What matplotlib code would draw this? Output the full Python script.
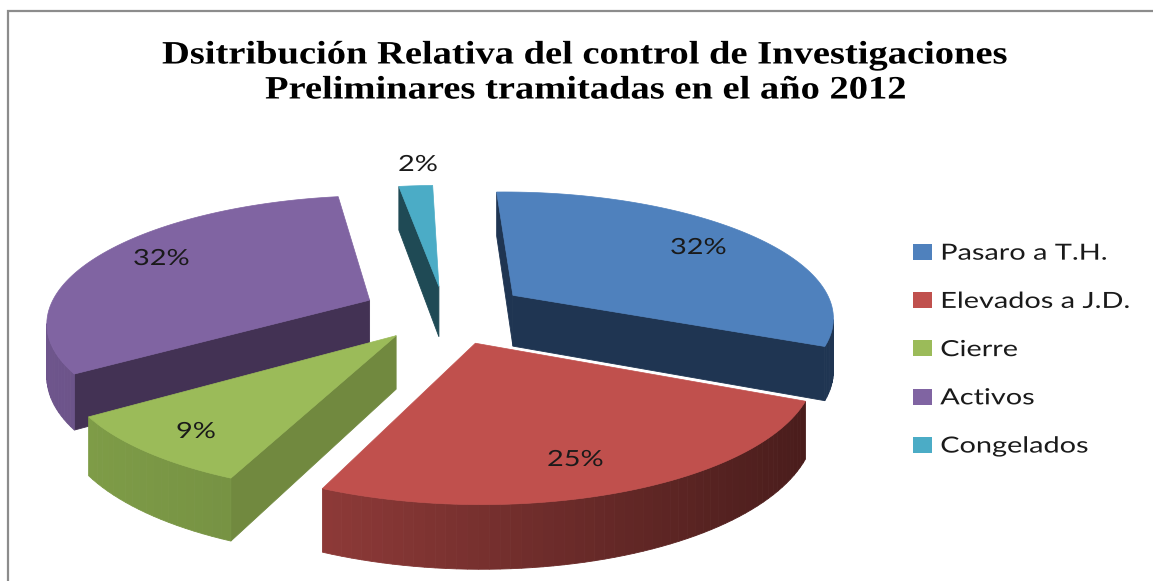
import numpy as np
import matplotlib
matplotlib.use('Agg')
import matplotlib.pyplot as plt
import matplotlib.patheffects as pe
from matplotlib.colors import to_rgb
from matplotlib.patches import Patch, Polygon
from matplotlib.transforms import Affine2D

categories = ['Pasaro a T.H.', 'Elevados a J.D.', 'Cierre', 'Activos', 'Congelados']
values = [32, 25, 9, 32, 2]
top_colors = ['#4F81BD', '#C0504D', '#9BBB59', '#8064A2', '#4BACC6']
wall_colors = ['#1F3552', '#4A1D1C', '#71893F', '#433254', '#1F4A55']
rim_left = ['#1F3552', '#8E3A38', '#7E9C47', '#6E558C', '#2A6070']
rim_right = ['#1F3552', '#4A1D1C', '#6E883F', '#5A4672', '#2A6070']
explode = [0.26, 0.25, 0.23, 0.26, 0.22]
label_pos = [(670, 248), (547, 460), (176, 432), (133, 259), (398, 165)]

W, H = 1153, 581
# fake 3d view, numbers picked by eye
cx, cy, R, tilt, persp, depth = 445, 313, 322, 0.388, 0.159, 52
start_angle = np.radians(-1.5)


class Stretch(pe.AbstractPathEffect):
    # the original screenshot is stretched sideways
    def __init__(self, sx):
        super().__init__()
        self.sx = sx

    def draw_path(self, renderer, gc, tpath, affine, rgbFace=None):
        renderer.draw_path(gc, tpath, Affine2D().scale(self.sx, 1) + affine, rgbFace)


def project(x, y, z=0):
    s = 1 / (1 + persp * y)
    return cx + R * x * s, cy - R * tilt * y * s + depth * z * s


def area(pts):
    p = np.array(pts)
    return 0.5 * np.sum(p[:, 0] * np.roll(p[:, 1], -1) - np.roll(p[:, 0], -1) * p[:, 1])


def mix(a, b, t):
    return tuple((1 - t) * np.array(to_rgb(a)) + t * np.array(to_rgb(b)))


def draw_slice(ax, i, a0, a1):
    mid = (a0 + a1) / 2
    ox, oy = explode[i] * np.sin(mid), explode[i] * np.cos(mid)
    ang = np.linspace(a0, a1, max(int(np.degrees(a1 - a0) / 1.5), 3))
    xs = np.r_[ox, ox + np.sin(ang)]
    ys = np.r_[oy, oy + np.cos(ang)]
    top = [project(x, y) for x, y in zip(xs, ys)]
    low = [project(x, y, 1) for x, y in zip(xs, ys)]
    sign = area(top)
    n = len(top)
    all_x = [p[0] for p in top]
    for j in range(n):
        k = (j + 1) % n
        quad = [top[j], top[k], low[k], low[j]]
        if area(quad) * sign >= 0:
            continue
        if j == 0 or k == 0:
            col = wall_colors[i]
        else:
            t = (top[j][0] - min(all_x)) / max(max(all_x) - min(all_x), 1)
            col = mix(rim_left[i], rim_right[i], t)
        ax.add_patch(Polygon(quad, closed=True, fc=col, ec=col, lw=0.6))
    ax.add_patch(Polygon(top, closed=True, fc=top_colors[i], ec=top_colors[i], lw=0.5))


fig = plt.figure(figsize=(W / 100, H / 100), dpi=100)
ax = fig.add_axes([0, 0, 1, 1])
ax.set_xlim(0, W)
ax.set_ylim(H, 0)
ax.axis('off')

# only the top and left of the chart frame made it into the screenshot
ax.plot([8, 8, W], [H, 11, 11], color='#8C8C8C', lw=1.6, solid_joinstyle='miter')

edges = start_angle + np.r_[0, np.cumsum(values)] / sum(values) * 2 * np.pi
for i in [4, 3, 0, 2, 1]:
    draw_slice(ax, i, edges[i], edges[i + 1])

for v, (x, y) in zip(values, label_pos):
    t = ax.text(x, y, '%d%%' % v, family='Lato', fontsize=16, color='#1A1A1A', ha='left', va='center')
    t.set_path_effects([Stretch(1.3)])

for txt, x, y in [('Dsitribución Relativa del control de Investigaciones', 162, 55),
                  ('Preliminares tramitadas en el año 2012', 265, 90)]:
    t = ax.text(x, y, txt, family='Liberation Serif', weight='bold', fontsize=23.5, color='black', ha='left', va='center')
    t.set_path_effects([Stretch(1.18)])

handles = [Patch(fc=c, ec='none') for c in top_colors]
leg = ax.legend(handles, categories, loc='upper left', bbox_to_anchor=(906 / W, 1 - 237 / H), frameon=False,
                prop={'family': 'Lato', 'size': 16}, labelspacing=1.27, handlelength=0.86,
                handleheight=0.73, handletextpad=0.38, borderpad=0.3, borderaxespad=0)
for t in leg.get_texts():
    t.set_color('#1A1A1A')
    t.set_path_effects([Stretch(1.3)])

fig.savefig('out.png', dpi=100)
